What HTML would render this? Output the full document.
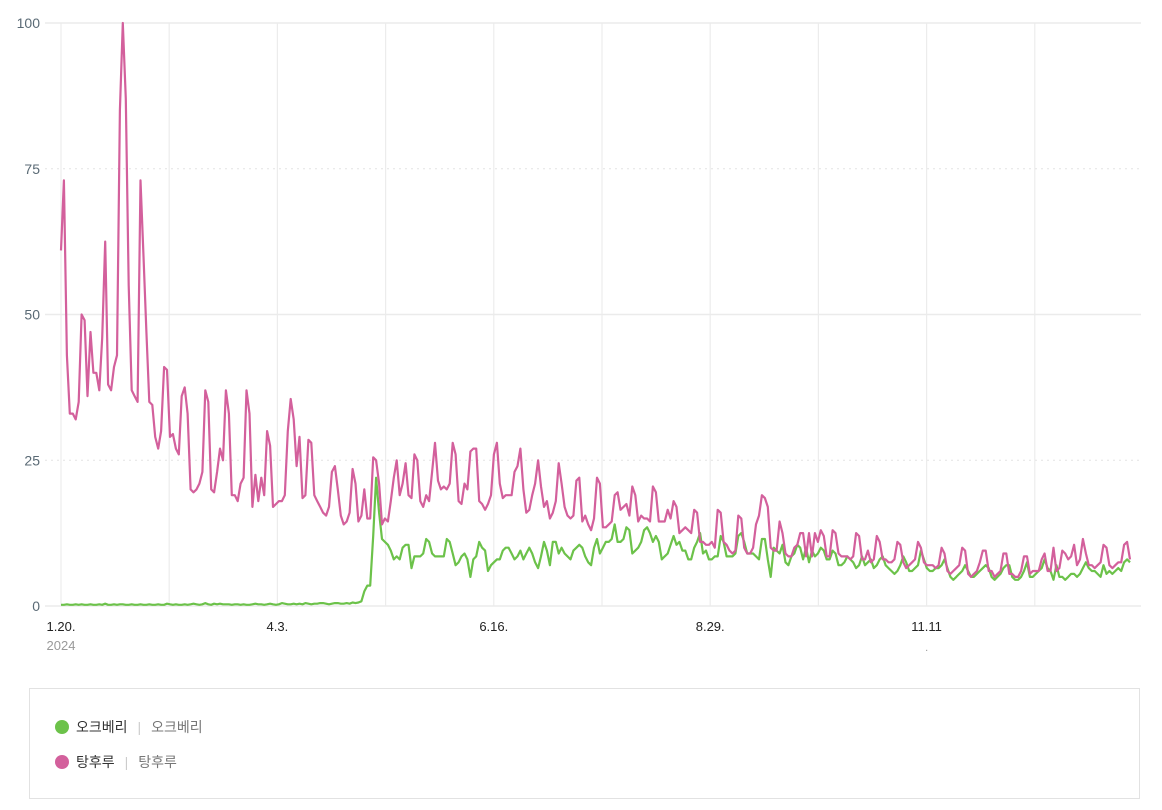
<!DOCTYPE html>
<html><head><meta charset="utf-8"><style>
body{margin:0;background:#fff;width:1162px;height:810px;overflow:hidden;font-family:"Liberation Sans","Noto Sans CJK KR",sans-serif}
#legend{position:absolute;left:29px;top:688px;width:1111px;height:111px;border:1px solid #e2e2e2;box-sizing:border-box}
.le{position:absolute;left:25px;font-size:14px;color:#333;display:flex;align-items:center}
.dot{width:14px;height:14px;border-radius:50%;margin-right:7px}
.sep{color:#ccc;margin:0 10px}
.sub{color:#777}
</style></head><body>
<svg id="chart" width="1162" height="680" style="position:absolute;left:0;top:0" font-family="Liberation Sans, Noto Sans CJK KR, sans-serif"></svg>
<div id="legend">
<div class="le" style="top:28px"><span class="dot" style="background:#6cc24a"></span><span>오크베리</span><span class="sep">|</span><span class="sub">오크베리</span></div>
<div class="le" style="top:63px"><span class="dot" style="background:#d3609c"></span><span>탕후루</span><span class="sep">|</span><span class="sub">탕후루</span></div>
</div>
<script>
const yTicks=[0,25,50,75,100];
const xTickLabels=["1.20.","4.3.","6.16.","8.29.","11.11"];
const xTickDays=[0,74,148,222,296];
const pink=[61,73,43,33,33,32,35,50,49,36,47,40,40,37,46,62.5,38,37,41,43,85,100,87,55,37,36,35,73,60,47,35,34.5,29,27,30,41,40.5,29,29.5,27,26,36,37.5,33,20,19.5,20,21,23,37,35,20,19.5,23,27,25,37,33,19,19,18,21,22,37,33,17,22.5,18,22,19,30,27.5,17,17.5,18,18,19,30,35.5,32,24,29,18.5,19,28.5,28,19,18,17,16,15.5,17,23,24,20,15.5,14,14.5,16,23.5,21,14.5,15.5,20,15,15,25.5,25,21,14,15,14.5,18,22,25,19,21,24.5,19,18.5,26,25,18,17,19,18,23,28,21.5,20,20.5,20,21,28,26,18,17.5,21,20,26.5,27,27,18,17.5,16.5,17.5,19,26,28,21,18.5,19,19,19,23,24,27,20,16,16.5,19,21,25,20.5,17,18,15,16,18,24.5,21,17,15.5,15,15.5,21.5,22,14.5,15.5,14,13,15,22,21,13.5,13.5,14,14.5,19,19.5,16.5,17,17.5,15.5,20.5,19,14.5,15.5,15,15,14.5,20.5,19.5,14.5,14.5,14.5,16.5,15,18,17,12.5,13,13.5,13,12.5,16.5,16,11,11,10.5,10.5,11,10,16.5,16,11,10.5,9.5,9,9.5,15.5,15,10,9,9,10,14,15.5,19,18.5,17,10,9.5,9.5,14.5,12.5,9,8.5,8.5,10,10.5,12.5,12.5,8.5,12.5,8.5,12.5,11,13,12,8.5,8.5,13,12.5,9,8.5,8.5,8.5,8,8.5,12.5,12,8,8,9.5,7.5,8,12,11,8,8,7.5,7.5,8,11,10.5,7.5,6.5,7,7.5,8,11,10,7.5,7,7,7,6.5,7,10,9,6,5.5,6,6.5,7,10,9.5,5.5,5,5.5,6,7.5,9.5,9.5,6,6,5,5.5,6,9,9,5.5,5.5,5,5,6,8.5,8.5,5.5,6,6,6,8,9,6,6,10,6,6.5,9.5,9,8,8.5,10.5,7,8,11.5,9,7,7,6.5,7,7.5,10.5,10,7,6.5,7,7.5,7.5,10.5,11,8];
const green=[0.2,0.2,0.3,0.2,0.2,0.3,0.2,0.3,0.2,0.2,0.3,0.2,0.2,0.3,0.2,0.4,0.2,0.2,0.3,0.2,0.3,0.3,0.2,0.2,0.3,0.2,0.2,0.3,0.2,0.2,0.3,0.2,0.2,0.3,0.2,0.2,0.4,0.3,0.2,0.3,0.2,0.2,0.3,0.2,0.3,0.4,0.3,0.2,0.3,0.5,0.3,0.2,0.4,0.3,0.4,0.3,0.3,0.3,0.2,0.3,0.3,0.2,0.3,0.2,0.2,0.3,0.4,0.3,0.3,0.2,0.3,0.4,0.3,0.2,0.3,0.5,0.4,0.3,0.3,0.4,0.3,0.4,0.3,0.5,0.4,0.3,0.4,0.4,0.5,0.5,0.4,0.3,0.4,0.5,0.5,0.4,0.4,0.5,0.4,0.6,0.5,0.6,0.8,2.5,3.5,3.5,12,22,16,11.5,11,10.5,9.5,8,8.5,8,10,10.5,10.5,6.5,8.5,8.5,8.5,9,11.5,11,9,8.5,8.5,8.5,8.5,11.5,11,9,7,7.5,8.5,9,8,5,8,8.5,11,10,9.5,6,7,7.5,8,8,9.5,10,10,9,8,8.5,9.5,8,9,10,9,7.5,6.5,8.5,11,9.5,7,11,11,9,10,9,8.5,8,9.5,10,10.5,10,8.5,7.5,7,10,11.5,9,10,11,11,11.5,14,11,11,11.5,13.5,13,9,9.5,10,11,13,13.5,12.5,11,12,11,8,8.5,9,10.5,12,10.5,11,9.5,9.5,8,8,10,11,12.5,9,9.5,8,8,8.5,8.5,12,11,8.5,8.5,8.5,9,12,12.5,11,9,9,9,8.5,8,11.5,11.5,8,5,10,9.5,9,10.5,7.5,7,8.5,9,10.5,10,8,10,7.5,9.5,8.5,9,10,9.5,8,8,9.5,9,7,7,7.5,8.5,8,7.5,6.5,7,8.5,7,7.5,8,6.5,7,8,8.5,7,6.5,6,5.5,6,7,8.5,7.5,6,6,6.5,7,9.5,8,6.5,6,6,6.5,6.5,7,8,6.5,5,4.5,5,5.5,6,7,6,5,5,5.5,6,6.5,7,6.5,5,4.5,5,5.5,6.5,7,7,5,4.5,4.5,5,6,7.5,5,5,5.5,6,6.5,8,6.5,6,4.5,7,5,5,4.5,5,5.5,5.5,5,5.5,6.5,7.5,6.5,6,6,5.5,5,7,5.5,6,5.5,6,6.5,6,7.5,8,7.5];

const svg=document.getElementById('chart');
const NS='http://www.w3.org/2000/svg';
const X0=61,DX=2.945,Y0=606,YS=5.83;
const xs=d=>X0+d*DX, ys=v=>Y0-v*YS;
function mk(t,a){const e=document.createElementNS(NS,t);for(const k in a)e.setAttribute(k,a[k]);svg.appendChild(e);return e;}
for(let k=0;k<10;k++){const x=X0+k*108.2;
 const g=mk('line',{x1:x,x2:x,y1:23,y2:606,stroke:'#ececec','stroke-width':1.2});
 
 }
yTicks.forEach(v=>{const y=ys(v);const dotted=(v===25||v===75);
 const g=mk('line',{x1:45,x2:1141,y1:y,y2:y,stroke:dotted?'#e4e4e4':'#ebebeb','stroke-width':dotted?1:1.5,'stroke-dasharray':dotted?'2,4':'none'});
 
 
 const t=mk('text',{x:40,y:y+5,'text-anchor':'end','font-size':14,fill:'#5a6a75'});t.textContent=v;
 
 });
xTickLabels.forEach((l,i)=>{const t=mk('text',{x:X0+i*216.4,y:631,'text-anchor':'middle','font-size':13,fill:'#222'});t.textContent=l;
 
 });
const yr=mk('text',{x:X0,y:650,'text-anchor':'middle','font-size':13,fill:'#999'});yr.textContent='2024';


const dt=mk('text',{x:X0+4*216.4,y:651,'text-anchor':'middle','font-size':11,fill:'#999'});dt.textContent='.';


function line(data,color,name){const p=data.map((v,i)=>(i?'L':'M')+xs(i).toFixed(1)+','+ys(v).toFixed(1)).join('');
 const e=mk('path',{d:p,fill:'none',stroke:color,'stroke-width':2.2,'stroke-linejoin':'round'});
 
 }
line(green,'#6cc24a','okberry-line');
line(pink,'#d3609c','tanghulu-line');
</script>
</body></html>
